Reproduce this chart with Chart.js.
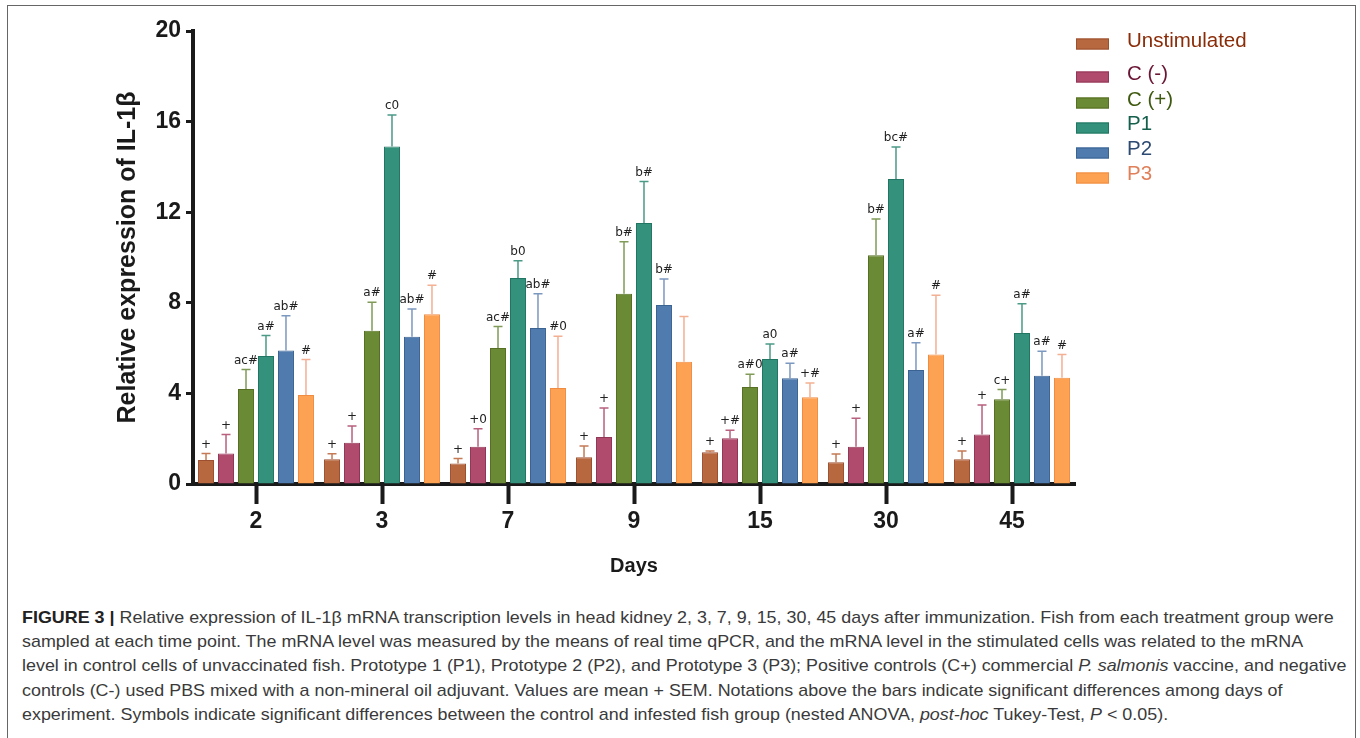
<!DOCTYPE html>
<html>
<head>
<meta charset="utf-8">
<script src="https://cdn.jsdelivr.net/npm/chart.js@4.4.0/dist/chart.umd.min.js"></script>
<style>
  body { margin: 0; background: #fff; width: 1360px; height: 738px; overflow: hidden; position: relative; font-family: "Liberation Sans", Arial, sans-serif; }
  #frame { position: absolute; left: 7px; top: 5px; width: 1347px; height: 780px; border: 1.5px solid #666; border-bottom: none; }
  #chartBox { position: absolute; left: 0; top: 0; width: 1360px; height: 580px; }
  #caption { position: absolute; left: 22px; top: 606px; font-size: 17px; line-height: 24.2px; color: #3a3a3a; white-space: nowrap; transform: scaleX(1.053); transform-origin: left top; }
  #caption b { color: #222; }
</style>
</head>
<body>
<div id="frame"></div>
<div id="chartBox"><canvas id="il1bChart"></canvas></div>
<div id="caption">
  <div><b>FIGURE 3 |</b> Relative expression of IL-1β mRNA transcription levels in head kidney 2, 3, 7, 9, 15, 30, 45 days after immunization. Fish from each treatment group were</div>
  <div>sampled at each time point. The mRNA level was measured by the means of real time qPCR, and the mRNA level in the stimulated cells was related to the mRNA</div>
  <div>level in control cells of unvaccinated fish. Prototype 1 (P1), Prototype 2 (P2), and Prototype 3 (P3); Positive controls (C+) commercial <i>P. salmonis</i> vaccine, and negative</div>
  <div>controls (C-) used PBS mixed with a non-mineral oil adjuvant. Values are mean + SEM. Notations above the bars indicate significant differences among days of</div>
  <div>experiment. Symbols indicate significant differences between the control and infested fish group (nested ANOVA, <i>post-hoc</i> Tukey-Test, <i>P</i> &lt; 0.05).</div>
</div>
<script>
// Days after immunization
const days = ['2', '3', '7', '9', '15', '30', '45'];
const yTicks = [0, 4, 8, 12, 16, 20];

// Mean relative expression per group
const unstimulated = [1.06, 1.09, 0.91, 1.18, 1.40, 0.96, 1.09];
const cNeg = [1.35, 1.82, 1.65, 2.08, 2.02, 1.65, 2.18];
const cPos = [4.19, 6.77, 6.00, 8.40, 4.28, 10.10, 3.74];
const p1 = [5.65, 14.90, 9.09, 11.52, 5.52, 13.47, 6.67];
const p2 = [5.89, 6.50, 6.89, 7.90, 4.67, 5.03, 4.78];
const p3 = [3.93, 7.49, 4.24, 5.40, 3.83, 5.72, 4.69];

// SEM (upper error bar only)
const semUnstimulated = [0.29, 0.25, 0.22, 0.50, 0.06, 0.36, 0.37];
const semCNeg = [0.84, 0.74, 0.79, 1.28, 0.35, 1.25, 1.31];
const semCPos = [0.87, 1.25, 0.95, 2.30, 0.56, 1.60, 0.43];
const semP1 = [0.91, 1.39, 0.77, 1.84, 0.66, 1.41, 1.29];
const semP2 = [1.54, 1.23, 1.51, 1.15, 0.66, 1.21, 1.08];
const semP3 = [1.57, 1.28, 2.28, 2.00, 0.63, 2.61, 1.03];

// Significance notations above the bars
const notesUnstimulated = ['+', '+', '+', '+', '+', '+', '+'];
const notesCNeg = ['+', '+', '+0', '+', '+#', '+', '+'];
const notesCPos = ['ac#', 'a#', 'ac#', 'b#', 'a#0', 'b#', 'c+'];
const notesP1 = ['a#', 'c0', 'b0', 'b#', 'a0', 'bc#', 'a#'];
const notesP2 = ['ab#', 'ab#', 'ab#', 'b#', 'a#', 'a#', 'a#'];
const notesP3 = ['#', '#', '#0', '', '+#', '#', '#'];

function series(label, data, sem, notes, fill, border, errColor, textColor) {
  return {
    label: label,
    data: data,
    sem: sem,
    notes: notes,
    errColor: errColor,
    textColor: textColor,
    backgroundColor: fill,
    borderColor: border,
    borderWidth: 1,
    categoryPercentage: 0.952,
    barPercentage: 0.8
  };
}

const datasets = [
  series('Unstimulated', unstimulated, semUnstimulated, notesUnstimulated, '#b8683f', '#9c5030', '#c47a55', '#8a2c08'),
  series('C (-)', cNeg, semCNeg, notesCNeg, '#b04b6e', '#913656', '#b8607e', '#6b1535'),
  series('C (+)', cPos, semCPos, notesCPos, '#6b8a35', '#566f22', '#809b58', '#3f5a10'),
  series('P1', p1, semP1, notesP1, '#34917b', '#217663', '#4a9a86', '#14604c'),
  series('P2', p2, semP2, notesP2, '#4f7bae', '#3b6392', '#7b98bf', '#2c4a72'),
  series('P3', p3, semP3, notesP3, '#fda253', '#f08c42', '#f4b092', '#e0805a')
];

// Error bars + notation text
const errorBars = {
  id: 'errorBars',
  afterDatasetsDraw(chart) {
    const ctx = chart.ctx;
    const y = chart.scales.y;
    ctx.save();
    chart.data.datasets.forEach((ds, i) => {
      const meta = chart.getDatasetMeta(i);
      meta.data.forEach((bar, j) => {
        const top = y.getPixelForValue(ds.data[j] + ds.sem[j]);
        ctx.strokeStyle = ds.errColor;
        ctx.lineWidth = 1.5;
        ctx.beginPath();
        ctx.moveTo(bar.x, bar.y);
        ctx.lineTo(bar.x, top);
        ctx.moveTo(bar.x - 4.5, top);
        ctx.lineTo(bar.x + 4.5, top);
        ctx.stroke();
        if (ds.notes[j]) {
          ctx.fillStyle = '#222';
          ctx.font = '12px "DejaVu Sans", sans-serif';
          ctx.textAlign = 'center';
          ctx.textBaseline = 'bottom';
          ctx.fillText(ds.notes[j], bar.x, top - 3);
        }
      });
    });
    ctx.restore();
  }
};

// Legend drawn at the upper right
const sideLegend = {
  id: 'sideLegend',
  afterDraw(chart) {
    const ctx = chart.ctx;
    const rows = [44, 77, 103, 128, 153, 178];
    const textRows = [41, 74, 100, 124, 149, 174];
    ctx.save();
    chart.data.datasets.forEach((ds, i) => {
      ctx.fillStyle = ds.backgroundColor;
      ctx.strokeStyle = ds.borderColor;
      ctx.lineWidth = 1;
      ctx.fillRect(1076, rows[i] - 5.5, 33, 11);
      ctx.strokeRect(1076.5, rows[i] - 5, 32, 10);
      ctx.fillStyle = ds.textColor;
      ctx.font = '20.5px "Liberation Sans", Arial, sans-serif';
      ctx.textAlign = 'left';
      ctx.textBaseline = 'middle';
      ctx.fillText(ds.label, 1127, textRows[i]);
    });
    ctx.restore();
  }
};

const ctx = document.getElementById('il1bChart').getContext('2d');
new Chart(ctx, {
  type: 'bar',
  data: { labels: days, datasets: datasets },
  plugins: [errorBars, sideLegend],
  options: {
    responsive: true,
    maintainAspectRatio: false,
    animation: false,
    layout: { padding: { left: 0, top: 31, right: 285, bottom: 0 } },
    plugins: {
      legend: { display: false },
      tooltip: { enabled: false }
    },
    scales: {
      x: {
        offset: true,
        grid: { offset: false, drawOnChartArea: false, tickLength: 20, tickWidth: 4, tickColor: '#1a1a1a' },
        border: { display: true, width: 4, color: '#1a1a1a' },
        ticks: {
          color: '#1a1a1a',
          padding: 4,
          font: { family: 'Liberation Sans', size: 23, weight: 'bold' }
        },
        title: {
          display: true,
          text: 'Days',
          color: '#1a1a1a',
          padding: { top: 10, bottom: 2 },
          font: { family: 'Liberation Sans', size: 20, weight: 'bold' }
        },
        afterFit(scale) { scale.height = 96; }
      },
      y: {
        min: 0,
        max: 20,
        afterBuildTicks(scale) { scale.ticks = yTicks.map(v => ({ value: v })); },
        grid: { drawOnChartArea: false, tickLength: 7, tickWidth: 3, tickColor: '#1a1a1a' },
        border: { display: true, width: 4, color: '#1a1a1a' },
        ticks: {
          color: '#1a1a1a',
          padding: 5,
          font: { family: 'Liberation Sans', size: 23, weight: 'bold' }
        },
        title: {
          display: true,
          text: 'Relative expression of IL-1β',
          color: '#1a1a1a',
          padding: { top: 113, bottom: 0 },
          font: { family: 'Liberation Sans', size: 25, weight: 'bold' }
        },
        afterFit(scale) { scale.width = 193; }
      }
    }
  }
});
</script>
</body>
</html>
